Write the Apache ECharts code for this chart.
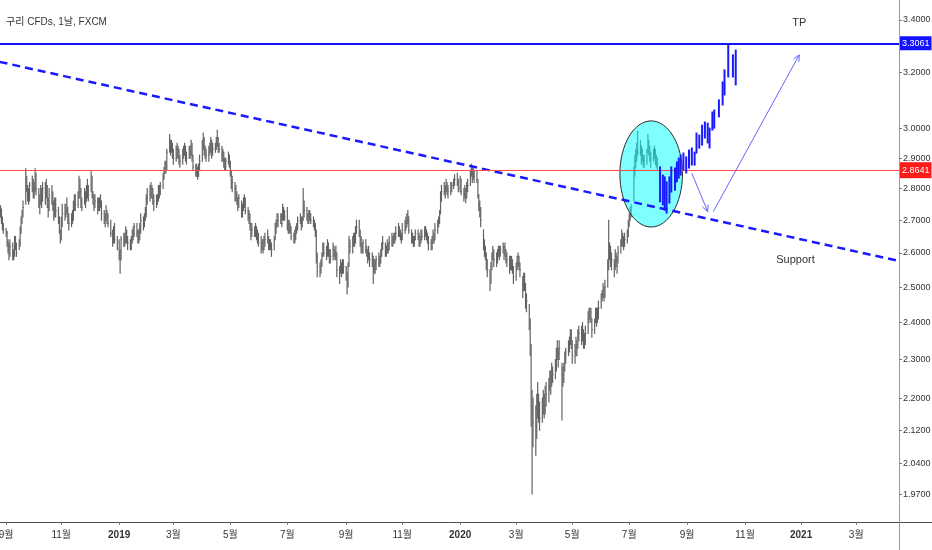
<!DOCTYPE html>
<html>
<head>
<meta charset="utf-8">
<script src="https://cdn.jsdelivr.net/npm/echarts@6/dist/echarts.min.js"></script>
<style>
  html, body { margin: 0; padding: 0; background: #fff; }
  #chart { width: 932px; height: 550px; }
</style>
</head>
<body>
<div id="chart"></div>
<script>
// daily bars, one row per week (Mon..Fri) starting 2018-08-27, null = no session
const barHigh = [
  2.74,2.745,2.735,2.71,2.69, 2.675,2.665,2.64,2.63,2.64, 2.63,2.61,2.65,2.65,2.63, 2.64,2.68,2.71,2.73,2.76,
  2.865,2.84,2.81,2.80,2.82, 2.84,2.83,2.82,2.865,2.85, 2.80,2.78,2.81,2.80,2.82, 2.82,2.83,2.81,2.77,2.80,
  2.81,2.79,2.76,2.77,2.77, 2.74,2.71,2.67,2.71,2.75, 2.75,2.75,2.77,2.74,2.72, 2.72,2.73,2.76,2.78,2.78,
  2.79,2.84,2.83,2.80,2.77, 2.80,2.79,2.81,2.83,2.81, 2.855,2.84,2.79,2.78,2.78, 2.77,2.77,2.77,2.78,2.76,
  2.73,2.72,2.745,2.73,2.72, 2.70,null,2.67,2.68,2.69, 2.65,null,2.64,2.61,2.65,
  // 2019
  2.66,2.66,2.68,2.67,2.65, 2.64,2.65,2.67,2.68,2.69, 2.69,2.67,2.67,2.69,2.72, 2.71,2.72,2.74,2.78,2.80,
  2.81,2.82,2.81,2.80,2.78, 2.78,2.78,2.81,2.81,2.82, 2.85,2.87,2.89,2.89,2.93, 2.98,2.96,2.96,2.95,2.93,
  2.94,2.95,2.94,2.93,2.91, 2.93,2.94,2.95,2.94,2.92, 2.94,2.94,2.96,2.95,2.91, 2.88,2.88,2.87,2.88,2.91,
  2.96,2.985,2.97,2.94,2.93, 2.94,2.95,2.97,2.96,2.95, 2.95,2.97,2.995,2.97,2.95, 2.94,2.93,2.92,2.90,2.90,
  2.92,2.91,2.89,2.86,2.84, 2.82,2.81,2.79,2.77,2.78, 2.76,2.75,2.77,2.78,2.77, 2.74,2.73,2.72,2.69,2.69,
  2.68,2.69,2.68,2.67,2.66, 2.65,2.64,2.64,2.65,2.66, 2.67,2.65,2.64,2.64,2.63, 2.65,2.69,2.70,2.72,2.72,
  2.72,2.72,2.75,2.74,2.73, 2.74,2.70,2.70,2.69,2.68, 2.66,2.67,2.68,2.69,2.71, 2.72,2.71,2.71,2.80,2.76,
  2.74,2.72,2.73,2.73,2.72, 2.71,2.70,2.69,2.67,2.60, 2.57,2.58,2.60,2.63,2.63, 2.62,2.64,2.63,2.61,2.61,
  2.63,2.62,2.61,2.62,2.60, 2.56,2.58,2.57,2.58,2.58, 2.56,2.54,2.57,2.65,2.64, 2.65,2.66,2.66,2.68,2.70,
  2.70,2.67,2.65,2.63,2.64, 2.64,2.62,2.61,2.62,2.60, 2.60,2.59,2.58,2.58,2.59, 2.60,2.59,2.61,2.63,2.65,
  2.63,2.62,2.64,2.63,2.65, 2.66,2.65,2.66,2.66,2.68, 2.69,2.68,2.67,2.66,2.69, 2.70,2.71,2.72,2.73,2.71,
  2.67,2.66,2.65,2.65,2.67, 2.67,2.66,2.65,2.67,2.67, 2.68,2.68,2.67,2.66,2.65, 2.64,2.65,2.67,2.66,2.69,
  2.70,2.71,2.73,2.79,2.81, 2.82,2.81,2.83,2.82,2.81, 2.82,2.82,null,2.83,2.845, 2.85,2.83,null,2.84,2.83,
  // 2020
  2.80,2.81,2.80,2.82,2.83, 2.86,2.88,2.87,2.87,2.86, 2.86,2.83,2.78,2.76,2.74, 2.67,2.64,2.62,2.60,2.58,
  2.55,2.57,2.60,2.62,2.61, 2.60,2.61,2.62,2.62,2.62, 2.63,2.62,2.63,2.61,2.60, 2.59,2.59,2.59,2.58,2.56,
  2.57,2.59,2.60,2.59,2.57, 2.53,2.54,2.54,2.51,2.48, 2.45,2.41,2.34,2.22,2.20, 2.18,2.21,2.24,2.21,2.19,
  2.20,2.22,2.21,2.23,2.24, 2.25,2.27,2.27,2.29,2.28, 2.30,2.33,2.35,2.33,2.35, 2.29,2.28,2.29,2.32,2.33,
  2.35,2.36,2.38,2.38,2.35, 2.34,2.36,2.35,2.38,2.39, 2.39,2.40,2.38,2.37,2.39, 2.43,2.44,2.44,2.44,2.41,
  2.41,2.44,2.44,2.44,2.46, 2.48,2.49,2.51,2.50,2.52, 2.58,2.70,2.63,2.62,2.60, 2.58,2.61,2.60,2.59,2.62,
  2.64,2.67,2.66,2.65,2.66, 2.67,2.70,2.72,2.74,2.75, 2.87,2.91,2.93,2.95,2.99, 2.96,2.94,2.93,2.91,2.91,
  2.93,2.98,2.96,2.94,2.92, 2.93,2.94,2.93,2.91,2.90
];
const barLow = [
  2.70,2.71,2.69,2.67,2.66, 2.65,2.62,2.60,2.58,2.59, 2.58,2.58,2.59,2.61,2.59, 2.61,2.62,2.66,2.69,2.71,
  2.75,2.79,2.76,2.75,2.76, 2.79,2.77,2.77,2.79,2.78, 2.74,2.72,2.75,2.74,2.76, 2.75,2.77,2.74,2.71,2.73,
  2.75,2.73,2.70,2.71,2.71, 2.69,2.66,2.63,2.64,2.68, 2.70,2.71,2.72,2.69,2.67, 2.68,2.69,2.70,2.73,2.73,
  2.74,2.77,2.77,2.74,2.73, 2.75,2.74,2.76,2.77,2.76, 2.79,2.77,2.75,2.73,2.74, 2.72,2.73,2.73,2.74,2.70,
  2.69,2.68,2.70,2.69,2.68, 2.65,null,2.62,2.63,2.63, 2.61,null,2.58,2.54,2.58,
  // 2019
  2.62,2.62,2.63,2.63,2.61, 2.61,2.61,2.63,2.64,2.65, 2.65,2.63,2.63,2.64,2.66, 2.67,2.68,2.70,2.71,2.75,
  2.76,2.77,2.77,2.75,2.73, 2.74,2.75,2.76,2.77,2.78, 2.80,2.83,2.85,2.85,2.86, 2.92,2.91,2.92,2.90,2.88,
  2.89,2.90,2.90,2.88,2.87, 2.88,2.90,2.91,2.89,2.88, 2.90,2.90,2.91,2.89,2.86, 2.84,2.84,2.83,2.84,2.86,
  2.89,2.93,2.91,2.90,2.89, 2.89,2.91,2.92,2.90,2.91, 2.92,2.93,2.94,2.92,2.92, 2.89,2.89,2.87,2.86,2.86,
  2.88,2.87,2.84,2.80,2.79, 2.76,2.76,2.75,2.73,2.74, 2.71,2.71,2.73,2.74,2.72, 2.70,2.69,2.67,2.64,2.65,
  2.65,2.65,2.64,2.63,2.62, 2.60,2.61,2.60,2.61,2.62, 2.63,2.61,2.61,2.61,2.59, 2.61,2.64,2.66,2.68,2.68,
  2.69,2.68,2.70,2.70,2.70, 2.67,2.66,2.66,2.66,2.64, 2.63,2.63,2.64,2.66,2.67, 2.69,2.67,2.68,2.70,2.71,
  2.70,2.69,2.69,2.70,2.69, 2.68,2.67,2.65,2.57,2.53, 2.53,2.54,2.56,2.59,2.59, 2.58,2.59,2.59,2.57,2.57,
  2.58,2.59,2.58,2.58,2.53, 2.51,2.54,2.53,2.54,2.54, 2.52,2.48,2.50,2.56,2.60, 2.60,2.62,2.62,2.63,2.66,
  2.65,2.62,2.60,2.60,2.60, 2.60,2.59,2.57,2.58,2.56, 2.56,2.51,2.54,2.54,2.55, 2.56,2.56,2.57,2.59,2.61,
  2.59,2.59,2.60,2.60,2.61, 2.62,2.62,2.63,2.63,2.64, 2.65,2.65,2.64,2.63,2.64, 2.66,2.67,2.68,2.69,2.66,
  2.63,2.63,2.62,2.62,2.64, 2.64,2.62,2.62,2.63,2.64, 2.64,2.65,2.64,2.63,2.61, 2.61,2.61,2.63,2.63,2.64,
  2.66,2.68,2.69,2.72,2.76, 2.78,2.77,2.79,2.78,2.77, 2.78,2.79,null,2.80,2.81, 2.81,2.79,null,2.79,2.78,
  // 2020
  2.76,2.77,2.755,2.77,2.79, 2.81,2.84,2.82,2.83,2.82, 2.82,2.77,2.73,2.71,2.68, 2.61,2.59,2.58,2.55,2.53,
  2.49,2.51,2.55,2.58,2.56, 2.56,2.57,2.59,2.58,2.59, 2.60,2.58,2.59,2.57,2.56, 2.54,2.55,2.55,2.54,2.51,
  2.52,2.55,2.56,2.55,2.53, 2.47,2.49,2.49,2.44,2.43, 2.38,2.31,2.13,1.97,2.08, 2.06,2.10,2.15,2.14,2.12,
  2.14,2.16,2.15,2.16,2.18, 2.19,2.22,2.21,2.23,2.24, 2.25,2.27,2.30,2.28,2.30, 2.145,2.23,2.24,2.27,2.29,
  2.31,2.32,2.34,2.33,2.29, 2.29,2.31,2.31,2.33,2.35, 2.34,2.35,2.33,2.33,2.34, 2.37,2.40,2.41,2.40,2.36,
  2.37,2.40,2.39,2.40,2.41, 2.44,2.46,2.47,2.46,2.47, 2.50,2.55,2.58,2.56,2.55, 2.53,2.55,2.56,2.54,2.57,
  2.60,2.62,2.62,2.61,2.62, 2.63,2.65,2.68,2.70,2.71, 2.76,2.84,2.87,2.89,2.91, 2.91,2.88,2.89,2.87,2.87,
  2.88,2.92,2.91,2.89,2.87, 2.89,2.90,2.88,2.87,2.86
];
const barClose = [
  2.72,2.73,2.70,2.68,2.67, 2.66,2.63,2.61,2.60,2.62, 2.60,2.59,2.63,2.62,2.60, 2.63,2.67,2.70,2.72,2.74,
  2.83,2.80,2.78,2.77,2.81, 2.82,2.79,2.80,2.84,2.80, 2.76,2.75,2.79,2.77,2.80, 2.78,2.80,2.76,2.74,2.78,
  2.77,2.75,2.72,2.75,2.73, 2.70,2.67,2.64,2.69,2.72, 2.72,2.73,2.74,2.71,2.69, 2.70,2.71,2.74,2.76,2.75,
  2.77,2.81,2.79,2.76,2.74, 2.78,2.76,2.79,2.80,2.78, 2.83,2.78,2.77,2.75,2.76, 2.74,2.76,2.75,2.76,2.72,
  2.71,2.70,2.72,2.71,2.69, 2.66,null,2.64,2.67,2.64, 2.63,null,2.60,2.58,2.64,
  // 2019
  2.63,2.64,2.66,2.64,2.63, 2.62,2.64,2.65,2.66,2.68, 2.66,2.64,2.65,2.67,2.70, 2.68,2.70,2.72,2.77,2.79,
  2.78,2.80,2.79,2.77,2.76, 2.75,2.77,2.80,2.79,2.81, 2.84,2.86,2.88,2.87,2.92, 2.95,2.93,2.94,2.92,2.90,
  2.91,2.93,2.92,2.90,2.89, 2.91,2.92,2.94,2.91,2.90, 2.93,2.92,2.94,2.91,2.87, 2.85,2.86,2.84,2.86,2.89,
  2.95,2.96,2.93,2.92,2.91, 2.92,2.93,2.95,2.92,2.93, 2.94,2.95,2.97,2.94,2.93, 2.91,2.92,2.89,2.87,2.89,
  2.90,2.88,2.85,2.82,2.82, 2.80,2.78,2.77,2.75,2.77, 2.72,2.74,2.75,2.76,2.73, 2.72,2.71,2.69,2.66,2.67,
  2.66,2.67,2.66,2.65,2.63, 2.62,2.63,2.61,2.63,2.64, 2.64,2.62,2.63,2.62,2.61, 2.64,2.68,2.69,2.71,2.70,
  2.71,2.69,2.73,2.72,2.71, 2.68,2.67,2.68,2.67,2.65, 2.64,2.65,2.67,2.68,2.70, 2.71,2.69,2.70,2.73,2.73,
  2.71,2.70,2.72,2.71,2.70, 2.69,2.68,2.66,2.59,2.56, 2.55,2.57,2.59,2.61,2.60, 2.60,2.62,2.61,2.58,2.59,
  2.61,2.60,2.59,2.60,2.55, 2.55,2.56,2.55,2.57,2.56, 2.54,2.51,2.56,2.63,2.62, 2.63,2.65,2.64,2.66,2.68,
  2.66,2.64,2.62,2.61,2.63, 2.61,2.60,2.59,2.60,2.58, 2.58,2.56,2.55,2.57,2.58, 2.58,2.57,2.59,2.61,2.63,
  2.60,2.61,2.62,2.61,2.63, 2.64,2.63,2.65,2.64,2.66, 2.67,2.66,2.65,2.64,2.67, 2.68,2.69,2.70,2.71,2.67,
  2.64,2.65,2.63,2.64,2.66, 2.65,2.63,2.64,2.66,2.65, 2.66,2.67,2.65,2.64,2.63, 2.62,2.63,2.65,2.64,2.67,
  2.69,2.70,2.72,2.77,2.79, 2.80,2.79,2.81,2.80,2.79, 2.80,2.81,null,2.82,2.83, 2.82,2.80,null,2.83,2.79,
  // 2020
  2.78,2.79,2.77,2.80,2.81, 2.85,2.86,2.84,2.85,2.84, 2.83,2.78,2.75,2.73,2.70, 2.63,2.61,2.60,2.57,2.55,
  2.52,2.56,2.59,2.60,2.58, 2.58,2.60,2.61,2.60,2.61, 2.62,2.60,2.61,2.59,2.58, 2.56,2.58,2.57,2.56,2.53,
  2.56,2.57,2.59,2.57,2.55, 2.49,2.53,2.51,2.45,2.46, 2.40,2.33,2.18,2.10,2.14, 2.13,2.17,2.19,2.17,2.15,
  2.18,2.20,2.17,2.20,2.21, 2.23,2.25,2.24,2.27,2.26, 2.28,2.31,2.32,2.30,2.33, 2.26,2.25,2.28,2.31,2.32,
  2.33,2.34,2.36,2.35,2.31, 2.32,2.34,2.33,2.36,2.37, 2.36,2.37,2.35,2.34,2.37, 2.41,2.42,2.43,2.41,2.38,
  2.40,2.43,2.41,2.42,2.44, 2.47,2.48,2.49,2.48,2.50, 2.56,2.60,2.61,2.57,2.58, 2.56,2.59,2.58,2.56,2.60,
  2.63,2.65,2.64,2.62,2.64, 2.66,2.69,2.71,2.73,2.74, 2.86,2.89,2.90,2.93,2.92, 2.93,2.90,2.91,2.88,2.89,
  2.92,2.94,2.93,2.91,2.90, 2.91,2.92,2.90,2.89,2.88
];

// projected bars pattern (blue)
const projDates = ['2020-08-03','2020-08-06','2020-08-08','2020-08-10','2020-08-13','2020-08-15','2020-08-19',
  '2020-08-21','2020-08-23','2020-08-25','2020-08-28','2020-08-31','2020-09-03','2020-09-06','2020-09-09',
  '2020-09-11','2020-09-14','2020-09-17','2020-09-20','2020-09-23','2020-09-25','2020-09-28','2020-09-30',
  '2020-10-05','2020-10-09','2020-10-11','2020-10-15','2020-10-20','2020-10-23'];
const projHigh = [2.871,2.844,2.838,2.822,2.838,2.871,2.867,2.887,2.900,2.910,2.917,2.904,2.927,2.934,2.920,
  2.985,2.978,3.012,3.023,3.019,3.002,3.058,3.065,3.101,3.166,3.210,3.3061,3.266,3.284];
const projLow = [2.758,2.748,2.732,2.722,2.754,2.789,2.795,2.822,2.834,2.844,2.861,2.851,2.867,2.877,2.877,
  2.917,2.934,2.944,2.968,2.951,2.934,2.995,3.002,3.041,3.083,3.119,3.184,3.184,3.155];

const priceTicks = [3.4, 3.2, 3.0, 2.9, 2.8, 2.7, 2.6, 2.5, 2.4, 2.3, 2.2, 2.12, 2.04, 1.97];
const dateTicks = ['2018-09-03','2018-11-01','2019-01-02','2019-03-01','2019-05-01','2019-07-01','2019-09-02',
  '2019-11-01','2020-01-02','2020-03-02','2020-05-01','2020-07-01','2020-09-01','2020-11-02','2021-01-01','2021-03-01'];

const tpLevel = 3.3061;
const keyLevel = 2.8641;
const supportDates = ['2018-08-27', '2021-04-16'];
const supportPrices = [3.240, 2.576];
const ellipseDates = ['2020-06-21', '2020-08-27'];
const ellipsePrices = [3.027, 2.679];
const arrowFromDates = ['2020-09-06', '2020-09-29'];
const arrowFromPrices = [2.850, 2.727];
const arrowToDates = ['2020-09-23', '2020-12-30'];
const arrowToPrices = [2.727, 3.266];
const noteDates = ['2020-12-30', '2020-12-26'];
const notePrices = [3.388, 2.579];
const noteTexts = ['TP', 'Support'];

const FONT = "'Liberation Sans', 'Noto Sans CJK KR', sans-serif";

function T(s) {
  const p = s.split('-').map(Number);
  return new Date(p[0], p[1] - 1, p[2]).getTime();
}

const barData = [];
for (let i = 0; i < barHigh.length; i++) {
  if (barHigh[i] == null) continue;
  const d = new Date(2018, 7, 27 + Math.floor(i / 5) * 7 + (i % 5)).getTime();
  barData.push([d, barHigh[i], barLow[i], barClose[i]]);
}
const projData = projDates.map((d, i) => [T(d), projHigh[i], projLow[i]]);

function barRenderer(color, width, withClose) {
  return function (params, api) {
    const t = api.value(0);
    const hi = api.coord([t, api.value(1)]);
    const lo = api.coord([t, api.value(2)]);
    const children = [{
      type: 'line',
      shape: { x1: hi[0], y1: hi[1] - 0.5, x2: lo[0], y2: lo[1] + 0.5 },
      style: { stroke: color, lineWidth: width }
    }];
    if (withClose) {
      const c = api.coord([t, api.value(3)]);
      children.push({ type: 'line', shape: { x1: c[0], y1: c[1], x2: c[0] + 1, y2: c[1] },
        style: { stroke: color, lineWidth: 1 } });
    }
    return { type: 'group', children: children };
  };
}

const chart = echarts.init(document.getElementById('chart'));

chart.setOption({
  animation: false,
  backgroundColor: '#ffffff',
  title: {
    text: '구리 CFDs, 1날, FXCM',
    left: 1, top: 12,
    textStyle: { fontSize: 10, fontWeight: 'normal', color: '#333', fontFamily: FONT }
  },
  grid: { left: 0, right: 33, top: 0, bottom: 28, containLabel: false, outerBoundsMode: 'none' },
  xAxis: {
    type: 'value',
    min: new Date(2018, 7, 27, 10).getTime(),
    max: new Date(2021, 3, 15, 19).getTime(),
    axisLine: { show: true, lineStyle: { color: '#4d4d4d', width: 1 } },
    axisTick: { show: true, customValues: dateTicks.map(T), length: 3, lineStyle: { color: '#777' } },
    axisLabel: {
      customValues: dateTicks.map(T),
      color: '#333', fontSize: 10, fontFamily: FONT, margin: 8,
      formatter: function (v) {
        const d = new Date(v);
        return d.getMonth() === 0 ? '{y|' + d.getFullYear() + '}' : (d.getMonth() + 1) + '월';
      },
      rich: { y: { fontWeight: 'bold', color: '#333', fontSize: 10, fontFamily: FONT } }
    },
    splitLine: { show: false }
  },
  yAxis: {
    type: 'log',
    position: 'right',
    min: 1.9076,
    max: 3.479,
    axisLine: { show: true, lineStyle: { color: '#9a9a9a', width: 1 } },
    axisTick: { show: true, customValues: priceTicks, length: 3, lineStyle: { color: '#777' } },
    axisLabel: {
      customValues: priceTicks,
      color: '#333', fontSize: 9, fontFamily: FONT, margin: 4,
      formatter: v => Number(v).toFixed(4)
    },
    splitLine: { show: false }
  },
  graphic: [
    { type: 'line', shape: { x1: 899, y1: 522.5, x2: 932, y2: 522.5 }, style: { stroke: '#4d4d4d', lineWidth: 1 } },
    { type: 'line', shape: { x1: 899.5, y1: 522, x2: 899.5, y2: 550 }, style: { stroke: '#9a9a9a', lineWidth: 1 } }
  ],
  series: [
    {
      name: 'copper',
      type: 'custom',
      z: 2,
      renderItem: barRenderer('#636363', 1.2, true),
      encode: { x: 0, y: [1, 2] },
      data: barData
    },
    {
      name: 'zone',
      type: 'custom',
      z: 3,
      renderItem: function (params, api) {
        const p = api.coord([api.value(0), api.value(1)]);
        const q = api.coord([api.value(2), api.value(3)]);
        return {
          type: 'ellipse',
          shape: { cx: (p[0] + q[0]) / 2, cy: (p[1] + q[1]) / 2,
                   rx: Math.abs(q[0] - p[0]) / 2, ry: Math.abs(q[1] - p[1]) / 2 },
          style: { fill: 'rgba(0,255,255,0.5)', stroke: '#2b2b2b', lineWidth: 1 }
        };
      },
      data: [[T(ellipseDates[0]), ellipsePrices[0], T(ellipseDates[1]), ellipsePrices[1]]]
    },
    {
      name: 'support',
      type: 'line',
      z: 4,
      symbol: 'none',
      silent: true,
      lineStyle: { color: '#1a1aff', width: 2.5, type: [8, 5] },
      data: supportDates.map((d, i) => [T(d), supportPrices[i]]),
      markLine: {
        silent: true,
        symbol: ['none', 'none'],
        data: [
          {
            yAxis: tpLevel,
            lineStyle: { color: '#1212ff', width: 2, type: 'solid' },
            label: { position: 'end', distance: 1, formatter: tpLevel.toFixed(4), color: '#fff',
              backgroundColor: '#1212ff', padding: [3, 2, 2, 2], fontSize: 9, fontFamily: FONT }
          },
          {
            yAxis: keyLevel,
            lineStyle: { color: '#ff4a4a', width: 1, type: 'solid' },
            label: { position: 'end', distance: 1, formatter: keyLevel.toFixed(4), color: '#fff',
              backgroundColor: '#ff1a1a', padding: [4, 2, 3, 2], fontSize: 9, fontFamily: FONT }
          }
        ]
      }
    },
    {
      name: 'projection',
      type: 'custom',
      z: 5,
      renderItem: barRenderer('#1a1aff', 2, false),
      encode: { x: 0, y: [1, 2] },
      data: projData
    },
    {
      name: 'arrows',
      type: 'custom',
      z: 5,
      renderItem: function (params, api) {
        const a = api.coord([api.value(0), api.value(1)]);
        const b = api.coord([api.value(2), api.value(3)]);
        const ang = Math.atan2(b[1] - a[1], b[0] - a[0]);
        const L = 7, s = 0.45;
        const p1 = [b[0] - L * Math.cos(ang - s), b[1] - L * Math.sin(ang - s)];
        const p2 = [b[0] - L * Math.cos(ang + s), b[1] - L * Math.sin(ang + s)];
        const st = { stroke: '#6464ff', lineWidth: 1, fill: null };
        return {
          type: 'group',
          children: [
            { type: 'line', shape: { x1: a[0], y1: a[1], x2: b[0], y2: b[1] }, style: st },
            { type: 'polyline', shape: { points: [p1, b, p2] }, style: st }
          ]
        };
      },
      data: arrowFromDates.map((d, i) => [T(d), arrowFromPrices[i], T(arrowToDates[i]), arrowToPrices[i]])
    },
    {
      name: 'notes',
      type: 'custom',
      z: 6,
      renderItem: function (params, api) {
        const p = api.coord([api.value(0), api.value(1)]);
        return {
          type: 'text',
          x: p[0], y: p[1],
          style: { text: noteTexts[params.dataIndex], fill: '#333', fontSize: 11, fontFamily: FONT,
                   align: 'center', verticalAlign: 'middle' }
        };
      },
      data: noteDates.map((d, i) => [T(d), notePrices[i]])
    }
  ]
});
</script>
</body>
</html>
